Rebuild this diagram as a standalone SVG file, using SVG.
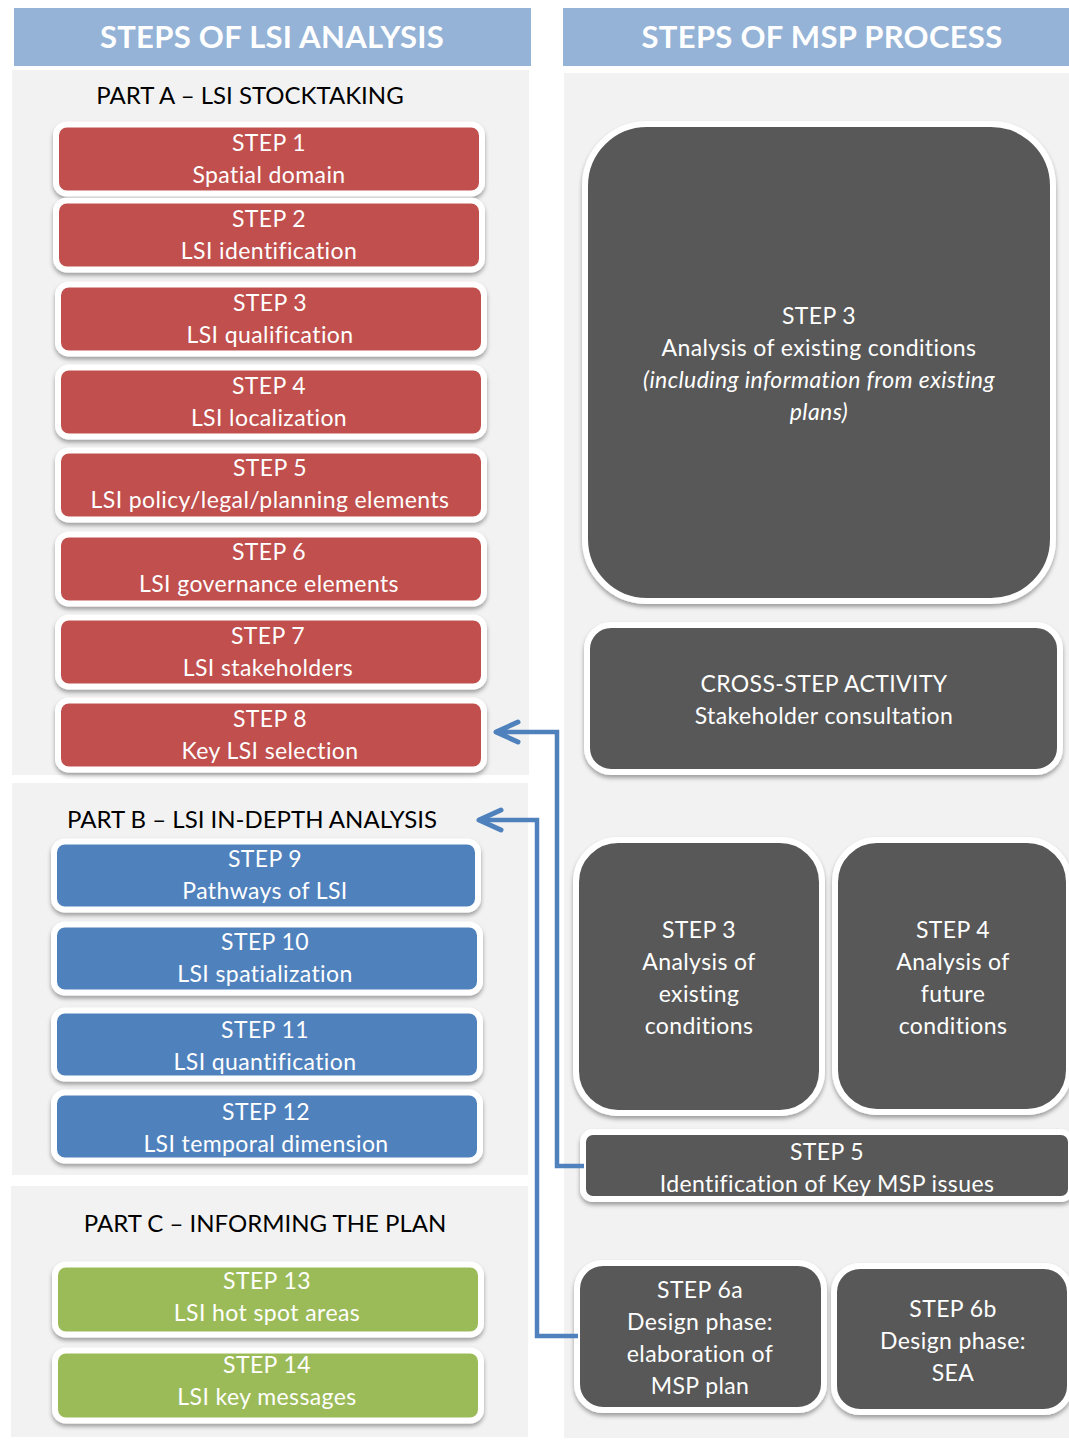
<svg xmlns="http://www.w3.org/2000/svg" width="1069" height="1440" viewBox="0 0 1069 1440">
<defs>
<filter id="sh" x="-10%" y="-10%" width="120%" height="130%">
<feDropShadow dx="0" dy="3" stdDeviation="2" flood-color="#000" flood-opacity="0.35"/>
</filter>
<marker id="ah" markerUnits="userSpaceOnUse" viewBox="-30 -15 34 30" refX="0" refY="0" markerWidth="34" markerHeight="30" orient="auto">
<path d="M -22,-10 L 0,0 L -22,10" fill="none" stroke="#4f81bd" stroke-width="5" stroke-linecap="round" stroke-linejoin="round"/>
</marker>
</defs>
<style>
.hdr{fill:#95b3d7}
.panel{fill:#f2f2f2}
.ht{font-family:Lato,"Open Sans","Liberation Sans",sans-serif;font-weight:bold;font-size:31px;letter-spacing:0.3px;fill:#fff;text-anchor:middle}
.pt{font-family:Lato,"Open Sans","Liberation Sans",sans-serif;font-size:24px;fill:#000;text-anchor:middle}
.bt{font-family:Lato,"Open Sans","Liberation Sans",sans-serif;font-size:23px;letter-spacing:0.4px;fill:#fff;text-anchor:middle}
.it{font-style:italic}
.red{fill:#c0504d;stroke:#fff;stroke-width:6}
.blue{fill:#4f81bd;stroke:#fff;stroke-width:6}
.green{fill:#9bbb59;stroke:#fff;stroke-width:6}
.dark{fill:#595959;stroke:#fff;stroke-width:6}
.conn{fill:none;stroke:#4f81bd;stroke-width:4.5}
</style>
<rect width="1069" height="1440" fill="#fff"/>
<g id="header-left"><rect class="hdr" x="14" y="8" width="517" height="58"/><text class="ht" x="272" y="48">STEPS OF LSI ANALYSIS</text></g>
<g id="header-right"><rect class="hdr" x="563" y="8" width="506" height="58"/><text class="ht" x="822" y="48">STEPS OF MSP PROCESS</text></g>
<g id="part-a"><rect class="panel" x="12" y="70" width="517" height="705"/><text class="pt" x="250" y="104">PART A – LSI STOCKTAKING</text></g>
<g id="part-b"><rect class="panel" x="12" y="783" width="516" height="392"/><text class="pt" x="252" y="828">PART B – LSI IN-DEPTH ANALYSIS</text></g>
<g id="part-c"><rect class="panel" x="11" y="1186" width="517" height="251"/><text class="pt" x="265" y="1232">PART C – INFORMING THE PLAN</text></g>
<g id="msp-panel"><rect class="panel" x="564" y="73" width="505" height="1365"/></g>

<g id="step1"><rect class="red" filter="url(#sh)" x="56" y="124.5" width="426" height="69" rx="11"/><text class="bt" x="269" y="151">STEP 1</text><text class="bt" x="269" y="183">Spatial domain</text></g>
<g id="step2"><rect class="red" filter="url(#sh)" x="56" y="200.5" width="426" height="69" rx="11"/><text class="bt" x="269" y="227">STEP 2</text><text class="bt" x="269" y="259">LSI identification</text></g>
<g id="step3"><rect class="red" filter="url(#sh)" x="58" y="284.5" width="426" height="69" rx="11"/><text class="bt" x="270" y="311">STEP 3</text><text class="bt" x="270" y="343">LSI qualification</text></g>
<g id="step4"><rect class="red" filter="url(#sh)" x="58" y="367.5" width="426" height="69" rx="11"/><text class="bt" x="269" y="394">STEP 4</text><text class="bt" x="269" y="426">LSI localization</text></g>
<g id="step5"><rect class="red" filter="url(#sh)" x="58" y="450.5" width="426" height="69" rx="11"/><text class="bt" x="270" y="476">STEP 5</text><text class="bt" x="270" y="508">LSI policy/legal/planning elements</text></g>
<g id="step6"><rect class="red" filter="url(#sh)" x="58" y="534.5" width="426" height="69" rx="11"/><text class="bt" x="269" y="560">STEP 6</text><text class="bt" x="269" y="592">LSI governance elements</text></g>
<g id="step7"><rect class="red" filter="url(#sh)" x="58" y="617.5" width="426" height="69" rx="11"/><text class="bt" x="268" y="644">STEP 7</text><text class="bt" x="268" y="676">LSI stakeholders</text></g>
<g id="step8"><rect class="red" filter="url(#sh)" x="58" y="700.5" width="426" height="69" rx="11"/><text class="bt" x="270" y="727">STEP 8</text><text class="bt" x="270" y="759">Key LSI selection</text></g>

<g id="step9"><rect class="blue" filter="url(#sh)" x="54" y="841.5" width="424" height="68" rx="11"/><text class="bt" x="265" y="867">STEP 9</text><text class="bt" x="265" y="899">Pathways of LSI</text></g>
<g id="step10"><rect class="blue" filter="url(#sh)" x="54" y="924.5" width="426" height="68" rx="11"/><text class="bt" x="265" y="950">STEP 10</text><text class="bt" x="265" y="982">LSI spatialization</text></g>
<g id="step11"><rect class="blue" filter="url(#sh)" x="54" y="1010.5" width="426" height="68" rx="11"/><text class="bt" x="265" y="1038">STEP 11</text><text class="bt" x="265" y="1070">LSI quantification</text></g>
<g id="step12"><rect class="blue" filter="url(#sh)" x="54" y="1092.5" width="426" height="68" rx="11"/><text class="bt" x="266" y="1120">STEP 12</text><text class="bt" x="266" y="1152">LSI temporal dimension</text></g>

<g id="step13"><rect class="green" filter="url(#sh)" x="55" y="1264.5" width="426" height="70" rx="11"/><text class="bt" x="267" y="1289">STEP 13</text><text class="bt" x="267" y="1321">LSI hot spot areas</text></g>
<g id="step14"><rect class="green" filter="url(#sh)" x="55" y="1350.5" width="426" height="70" rx="11"/><text class="bt" x="267" y="1373">STEP 14</text><text class="bt" x="267" y="1405">LSI key messages</text></g>

<g id="msp-step3-big"><rect class="dark" filter="url(#sh)" x="585" y="124" width="468" height="477" rx="62"/><text class="bt" x="819" y="324">STEP 3</text><text class="bt" x="819" y="356">Analysis of existing conditions</text><text class="bt it" x="819" y="388">(including information from existing</text><text class="bt it" x="819" y="420">plans)</text></g>
<g id="msp-cross"><rect class="dark" filter="url(#sh)" x="587" y="625" width="473" height="147" rx="24"/><text class="bt" x="824" y="692">CROSS-STEP ACTIVITY</text><text class="bt" x="824" y="724">Stakeholder consultation</text></g>
<g id="msp-step3"><rect class="dark" filter="url(#sh)" x="576" y="840" width="246" height="273" rx="42"/><text class="bt" x="699" y="938">STEP 3</text><text class="bt" x="699" y="970">Analysis of</text><text class="bt" x="699" y="1002">existing</text><text class="bt" x="699" y="1034">conditions</text></g>
<g id="msp-step4"><rect class="dark" filter="url(#sh)" x="835" y="840" width="234" height="272" rx="42"/><text class="bt" x="953" y="938">STEP 4</text><text class="bt" x="953" y="970">Analysis of</text><text class="bt" x="953" y="1002">future</text><text class="bt" x="953" y="1034">conditions</text></g>
<g id="msp-step5"><rect class="dark" filter="url(#sh)" x="583" y="1132" width="488" height="67" rx="10"/><text class="bt" x="827" y="1160">STEP 5</text><text class="bt" x="827" y="1192">Identification of Key MSP issues</text></g>
<g id="msp-step6a"><rect class="dark" filter="url(#sh)" x="577" y="1263" width="247" height="147" rx="26"/><text class="bt" x="700" y="1298">STEP 6a</text><text class="bt" x="700" y="1330">Design phase:</text><text class="bt" x="700" y="1362">elaboration of</text><text class="bt" x="700" y="1394">MSP plan</text></g>
<g id="msp-step6b"><rect class="dark" filter="url(#sh)" x="834" y="1266" width="236" height="146" rx="26"/><text class="bt" x="953" y="1317">STEP 6b</text><text class="bt" x="953" y="1349">Design phase:</text><text class="bt" x="953" y="1381">SEA</text></g>

<g id="connectors">
<polyline class="conn" points="584,1166 557,1166 557,732 496,732" marker-end="url(#ah)"/>
<polyline class="conn" points="578,1336 537,1336 537,820 479,820" marker-end="url(#ah)"/>
</g>
</svg>
